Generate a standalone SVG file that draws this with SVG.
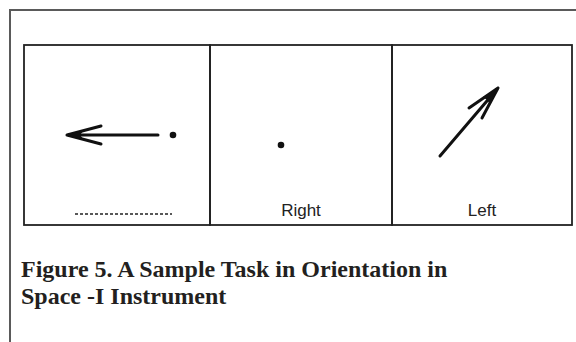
<svg xmlns="http://www.w3.org/2000/svg" width="576" height="342" viewBox="0 0 576 342">
<style>
.frame{fill:none;stroke:#5a5a5a;stroke-width:2}
.box{fill:none;stroke:#222;stroke-width:1.8}
.ink{fill:none;stroke:#111;stroke-width:3;stroke-linecap:round;stroke-linejoin:round}
.dot{fill:#111}
.lbl{font-family:"Liberation Sans",Arial,sans-serif;font-size:17px;fill:#222;text-anchor:middle}
.cap{font-family:"Liberation Serif","Times New Roman",serif;font-size:24px;font-weight:bold;fill:#231f20}
</style>
<rect width="576" height="342" fill="#fff"/>
<path class="frame" d="M10,342 V10 H576"/>
<g id="panel1">
<rect class="box" x="24" y="45" width="186" height="180"/>
<path class="ink" d="M158,135 H67 M101,126 L67,135 L101,144"/>
<path class="dot" d="M67,135 L84,130 L80,135 L84,140 Z"/>
<circle class="dot" cx="173" cy="135" r="3.3"/>
<line x1="75" y1="214" x2="172" y2="214" stroke="#222" stroke-width="1.3" stroke-dasharray="3,2"/>
</g>
<g id="panel2">
<rect class="box" x="210" y="45" width="182" height="180"/>
<circle class="dot" cx="281" cy="145" r="3.3"/>
<text class="lbl" x="301" y="216">Right</text>
</g>
<g id="panel3">
<rect class="box" x="392" y="45" width="180" height="180"/>
<path class="ink" d="M440,156 L498,88 M469,108 L498,88 L482,118"/>
<path class="dot" d="M498,88 L483,97 L487,100 L490,104 Z"/>
<text class="lbl" x="482" y="216">Left</text>
</g>
<g id="caption">
<text class="cap" x="21" y="277">Figure 5. A Sample Task in Orientation in</text>
<text class="cap" x="21" y="304">Space -I Instrument</text>
</g>
</svg>
